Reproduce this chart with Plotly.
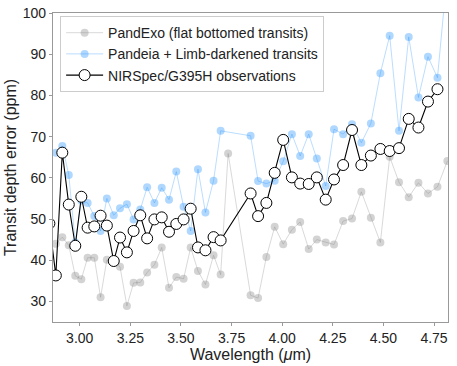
import plotly.graph_objects as go

# wavelength grid (micron)
wavelength = [2.850, 2.882, 2.914, 2.946, 2.978, 3.008, 3.039, 3.072, 3.103, 3.134,
              3.168, 3.199, 3.233, 3.266, 3.299, 3.333, 3.369, 3.405, 3.441, 3.477,
              3.513, 3.548, 3.584, 3.621, 3.661, 3.696, 3.733, 3.844, 3.881, 3.922,
              3.963, 4.005, 4.048, 4.089, 4.131, 4.171, 4.215, 4.256, 4.301, 4.345,
              4.391, 4.438, 4.485, 4.531, 4.577, 4.625, 4.673, 4.720, 4.767, 4.816]

pandexo = [None, 44.0, 45.6, 43.6, 36.2, 35.4, 40.6, 40.6, 31.0, 40.1,
           39.5, 38.4, 28.9, 34.5, 34.6, 37.0, 38.9, 43.1, 33.3, 35.9,
           35.5, 43.1, 37.4, 34.1, 41.2, 36.5, 65.9, 31.5, 30.8, 40.8,
           48.1, 43.9, 47.4, 49.3, 42.7, 45.0, 44.3, 43.8, 49.5, 50.1,
           56.6, 50.3, 44.3, 65.1, 58.9, 55.3, 58.8, 56.2, 57.8, 64.1]

pandeia = [None, 66.1, 67.7, 60.7, 44.3, 54.5, 53.9, 50.7, 47.1, 55.0,
           50.9, 52.6, 53.6, 49.9, 52.3, 57.7, 53.9, 57.6, 54.7, 61.5,
           53.0, 47.1, 62.1, 51.6, 59.3, 71.4, None, 70.2, 59.2, 58.6,
           59.3, 64.0, 70.6, 65.3, 70.6, 64.7, 58.0, 71.8, 70.6, 73.0,
           68.5, 73.2, 85.4, 94.5, 71.4, 94.2, 79.5, 89.4, 84.3, 110.0]

nirspec = [48.9, 36.3, 66.1, 53.5, 43.5, 55.4, 47.9, 48.2, 50.8, 48.4,
           39.8, 45.5, 41.9, 47.1, 50.9, 45.3, 49.9, 50.4, 46.9, 48.8,
           49.9, 52.5, 43.1, 42.4, 45.6, 44.8, None, 56.2, 50.7, 53.9,
           61.2, 69.2, 60.1, 58.6, 58.5, 60.1, 54.7, 59.6, 63.1, 71.6,
           63.1, 65.4, 67.0, 66.5, 67.2, 74.3, 72.2, 78.5, 81.5, None]

font = 'Liberation Sans, Arial, sans-serif'

fig = go.Figure([
	go.Scatter(
		x=wavelength, y=pandexo, mode='lines+markers', connectgaps=True,
		name='PandExo (flat bottomed transits)',
		line=dict(color='rgba(128,128,128,0.3)', width=1),
		marker=dict(color='rgba(128,128,128,0.35)', size=8)
	),
	go.Scatter(
		x=wavelength, y=pandeia, mode='lines+markers', connectgaps=True,
		name='Pandeia + Limb-darkened transits',
		line=dict(color='rgba(30,144,255,0.3)', width=1),
		marker=dict(color='rgba(30,144,255,0.35)', size=8)
	),
	go.Scatter(
		x=wavelength, y=nirspec, mode='lines+markers', connectgaps=True,
		name='NIRSpec/G395H observations',
		line=dict(color='black', width=1.1),
		marker=dict(color='white', size=11, line=dict(color='black', width=1))
	),
])

axis_style = dict(
	showline=True, linecolor='#999999', linewidth=1.3, mirror=True,
	ticks='outside', ticklen=3, tickcolor='#999999', showgrid=False,
	zeroline=False, automargin=False, tickfont=dict(size=14, color='#222222')
)

fig.update_layout(
	width=457, height=366,
	margin=dict(l=53, r=9, t=13, b=44),
	paper_bgcolor='white', plot_bgcolor='white',
	font=dict(family=font, color='#222222'),
	xaxis=dict(
		range=[2.868, 4.819], tickvals=[3.0, 3.25, 3.5, 3.75, 4.0, 4.25, 4.5, 4.75],
		tickformat='.2f',
		title=dict(text='Wavelength (<i>μ</i>m)', font=dict(size=16), standoff=2),
		**axis_style
	),
	yaxis=dict(
		range=[25, 100], tickvals=[30, 40, 50, 60, 70, 80, 90, 100],
		title=dict(text='Transit depth error (ppm)', font=dict(size=16), standoff=2),
		**axis_style
	),
	legend=dict(
		x=0.018, y=0.99, xanchor='left', yanchor='top',
		bgcolor='white', bordercolor='#cccccc', borderwidth=1,
		font=dict(size=14, color='#222222'), tracegroupgap=0,
		itemwidth=37
	),
	showlegend=True
)

# drop the default page margin so the figure sits at the window's corner
fig.write_html(
	'out.html',
	config={'displayModeBar': False},
	post_script="document.body.style.margin='0';"
)
